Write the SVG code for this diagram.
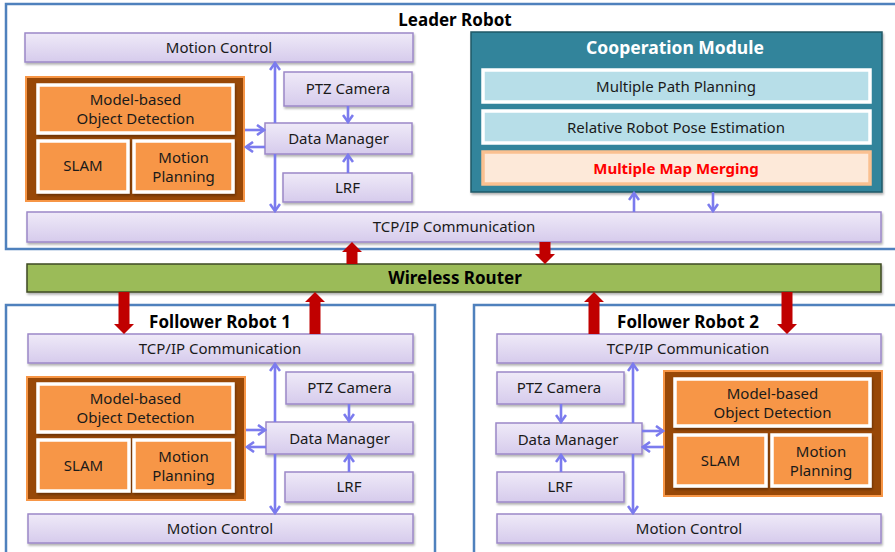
<svg xmlns="http://www.w3.org/2000/svg" width="895" height="552" viewBox="0 0 895 552">
  <defs>
    <linearGradient id="lav" x1="0" y1="0" x2="0" y2="1">
      <stop offset="0" stop-color="#EFEAF8"/>
      <stop offset="1" stop-color="#D6CBEC"/>
    </linearGradient>
    <filter id="sh" x="-5%" y="-20%" width="110%" height="150%">
      <feDropShadow dx="1" dy="2" stdDeviation="1" flood-color="#000" flood-opacity="0.3"/>
    </filter>
    <marker id="ah" markerUnits="userSpaceOnUse" viewBox="0 0 12 12" refX="10" refY="6" markerWidth="12" markerHeight="12" orient="auto">
      <path d="M3,1 L10,6 L3,11" fill="none" stroke="#7B7BEE" stroke-width="2.6" stroke-linejoin="miter"/>
    </marker>
    <!-- thick red radio arrows, tip at origin pointing up -->
    <polygon id="redShort" points="0,0 -10,10 -5.5,10 -5.5,22 5.5,22 5.5,10 10,10" fill="#C00000"/>
    <polygon id="redLong" points="0,0 -10,10 -5.5,10 -5.5,42 5.5,42 5.5,10 10,10" fill="#C00000"/>
  </defs>
  <style>
    .frame { fill: #fff; stroke: #4F81BD; stroke-width: 2.5; }
    .box { fill: url(#lav); stroke: #9C88C8; stroke-width: 1.5; filter: url(#sh); }
    .grp { fill: #984807; stroke: #F79646; stroke-width: 2; }
    .mod { fill: #F79646; stroke: #fff; stroke-width: 3.5; filter: url(#sh); }
    .coop { fill: #31849B; stroke: #215967; stroke-width: 1.5; filter: url(#sh); }
    .sub { fill: #B7DEE8; stroke: #fff; stroke-width: 3.5; }
    .merge { fill: #FDE9D9; stroke: #FAC090; stroke-width: 3.5; }
    .router { fill: #9BBB59; stroke: #3E4A24; stroke-width: 1.5; filter: url(#sh); }
    .t { font-family: "Noto Sans", "Open Sans", sans-serif; font-size: 15px; fill: #1a1a1a; text-anchor: middle; }
    .title { font-family: "Noto Sans", "Open Sans", sans-serif; font-size: 17px; font-weight: bold; fill: #000; text-anchor: middle; }
    .link { stroke: #7B7BEE; stroke-width: 2.6; fill: none; marker-end: url(#ah); }
  </style>

  <!-- robot frames -->
  <rect class="frame" x="6" y="4" width="900" height="245"/>
  <rect class="frame" x="6" y="305" width="429" height="260"/>
  <rect class="frame" x="474" y="305" width="430" height="260"/>

  <text class="title" x="455" y="26">Leader Robot</text>
  <text class="title" x="220" y="328">Follower Robot 1</text>
  <text class="title" x="688" y="328">Follower Robot 2</text>

  <!-- Leader robot -->
  <g id="leader-motion-control">
    <rect class="box" x="25" y="33" width="388" height="29"/>
    <text class="t" x="219" y="52.5">Motion Control</text>
  </g>
  <g id="leader-perception">
    <rect class="grp" x="26" y="77" width="218" height="124"/>
    <rect class="mod" x="38" y="85" width="195" height="48"/>
    <text class="t" x="135.5" y="105">Model-based</text>
    <text class="t" x="135.5" y="124">Object Detection</text>
    <rect class="mod" x="38" y="141" width="90" height="51"/>
    <text class="t" x="83" y="171">SLAM</text>
    <rect class="mod" x="134" y="141" width="99" height="51"/>
    <text class="t" x="183.5" y="163">Motion</text>
    <text class="t" x="183.5" y="182">Planning</text>
  </g>
  <g id="leader-ptz">
    <rect class="box" x="284" y="72" width="128" height="34"/>
    <text class="t" x="348" y="94">PTZ Camera</text>
  </g>
  <g id="leader-data-manager">
    <rect class="box" x="265" y="123" width="147" height="31"/>
    <text class="t" x="338.5" y="144">Data Manager</text>
  </g>
  <g id="leader-lrf">
    <rect class="box" x="283" y="173" width="129" height="29"/>
    <text class="t" x="347.5" y="193">LRF</text>
  </g>
  <g id="leader-tcpip">
    <rect class="box" x="27" y="212" width="854" height="30"/>
    <text class="t" x="454" y="232">TCP/IP  Communication</text>
  </g>
  <g id="cooperation-module">
    <rect class="coop" x="471" y="32" width="411" height="160"/>
    <text class="t" x="675" y="54" style="fill:#fff;font-weight:bold;font-size:17.5px">Cooperation Module</text>
    <rect class="sub" x="483" y="70" width="387" height="32"/>
    <text class="t" x="676" y="92">Multiple Path  Planning</text>
    <rect class="sub" x="483" y="111" width="387" height="32"/>
    <text class="t" x="676" y="133">Relative Robot Pose Estimation</text>
    <rect class="merge" x="483" y="152" width="387" height="32"/>
    <text class="t" x="676" y="174" style="fill:#FF0000;font-weight:bold">Multiple  Map  Merging</text>
  </g>

  <!-- Wireless router -->
  <g id="wireless-router">
    <rect class="router" x="27" y="264" width="854" height="28"/>
    <text class="title" x="455" y="284">Wireless Router</text>
  </g>

  <!-- Follower robot 1 -->
  <g id="f1-tcpip">
    <rect class="box" x="28" y="334" width="385" height="29"/>
    <text class="t" x="220" y="354">TCP/IP  Communication</text>
  </g>
  <g id="f1-perception">
    <rect class="grp" x="27" y="377" width="218" height="123"/>
    <rect class="mod" x="38" y="384" width="195" height="48"/>
    <text class="t" x="135.5" y="404">Model-based</text>
    <text class="t" x="135.5" y="423">Object Detection</text>
    <rect class="mod" x="38" y="440" width="91" height="51"/>
    <text class="t" x="83.5" y="471">SLAM</text>
    <rect class="mod" x="134" y="440" width="99" height="51"/>
    <text class="t" x="183.5" y="462">Motion</text>
    <text class="t" x="183.5" y="481">Planning</text>
  </g>
  <g id="f1-ptz">
    <rect class="box" x="286" y="372" width="127" height="32"/>
    <text class="t" x="349.5" y="393">PTZ Camera</text>
  </g>
  <g id="f1-data-manager">
    <rect class="box" x="266" y="422" width="147" height="32"/>
    <text class="t" x="339.5" y="444">Data Manager</text>
  </g>
  <g id="f1-lrf">
    <rect class="box" x="285" y="472" width="128" height="30"/>
    <text class="t" x="349" y="492">LRF</text>
  </g>
  <g id="f1-motion-control">
    <rect class="box" x="28" y="514" width="385" height="29"/>
    <text class="t" x="220" y="534">Motion Control</text>
  </g>

  <!-- Follower robot 2 -->
  <g id="f2-tcpip">
    <rect class="box" x="497" y="334" width="384" height="29"/>
    <text class="t" x="688" y="354">TCP/IP  Communication</text>
  </g>
  <g id="f2-ptz">
    <rect class="box" x="497" y="372" width="127" height="32"/>
    <text class="t" x="559" y="393">PTZ Camera</text>
  </g>
  <g id="f2-data-manager">
    <rect class="box" x="496" y="423" width="146" height="31"/>
    <text class="t" x="568" y="445">Data Manager</text>
  </g>
  <g id="f2-lrf">
    <rect class="box" x="497" y="472" width="127" height="30"/>
    <text class="t" x="560" y="492">LRF</text>
  </g>
  <g id="f2-perception">
    <rect class="grp" x="664" y="371" width="218" height="125"/>
    <rect class="mod" x="675" y="379" width="195" height="47"/>
    <text class="t" x="772.5" y="399">Model-based</text>
    <text class="t" x="772.5" y="418">Object Detection</text>
    <rect class="mod" x="675" y="435" width="91" height="51"/>
    <text class="t" x="720.5" y="466">SLAM</text>
    <rect class="mod" x="772" y="435" width="98" height="51"/>
    <text class="t" x="821" y="457">Motion</text>
    <text class="t" x="821" y="476">Planning</text>
  </g>
  <g id="f2-motion-control">
    <rect class="box" x="497" y="514" width="384" height="29"/>
    <text class="t" x="689" y="534">Motion Control</text>
  </g>

  <!-- connectors -->
  <g id="connectors">
    <!-- leader -->
    <path class="link" d="M275,123 V63"/>
    <path class="link" d="M275,154 V211"/>
    <path class="link" d="M348,106 V122"/>
    <path class="link" d="M348,173 V155"/>
    <path class="link" d="M245,130 H264"/>
    <path class="link" d="M265,147 H246"/>
    <path class="link" d="M634,212 V193"/>
    <path class="link" d="M713,192 V211"/>
    <!-- follower 1 -->
    <path class="link" d="M275,422 V364"/>
    <path class="link" d="M275,454 V513"/>
    <path class="link" d="M349,404 V421"/>
    <path class="link" d="M349,472 V455"/>
    <path class="link" d="M246,430 H265"/>
    <path class="link" d="M266,447 H247"/>
    <!-- follower 2 -->
    <path class="link" d="M633,423 V364"/>
    <path class="link" d="M633,454 V513"/>
    <path class="link" d="M561,404 V422"/>
    <path class="link" d="M561,472 V455"/>
    <path class="link" d="M642,431 H663"/>
    <path class="link" d="M664,447 H643"/>
    <!-- radio links -->
    <use href="#redShort" x="352" y="242"/>
    <use href="#redShort" transform="translate(545,264) rotate(180)"/>
    <use href="#redLong" transform="translate(124,334) rotate(180)"/>
    <use href="#redLong" x="315" y="292"/>
    <use href="#redLong" x="594" y="292"/>
    <use href="#redLong" transform="translate(787,334) rotate(180)"/>
  </g>
</svg>
